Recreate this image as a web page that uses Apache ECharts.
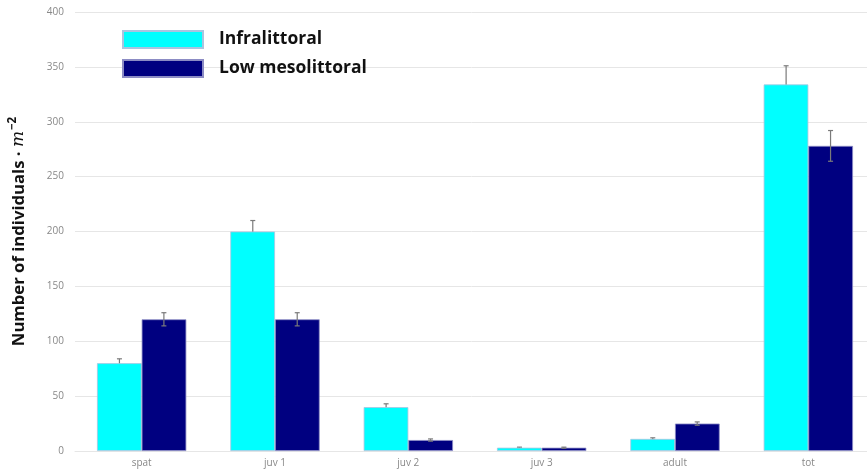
<!DOCTYPE html>
<html>
<head>
<meta charset="utf-8">
<script src="https://cdn.jsdelivr.net/npm/echarts@6/dist/echarts.min.js"></script>
<style>
  html, body { margin: 0; padding: 0; background: #fff; }
  #chart { width: 867px; height: 472px; }
</style>
</head>
<body>
<div id="chart"></div>
<script>
// Size classes along the x axis
const categories = ['spat', 'juv 1', 'juv 2', 'juv 3', 'adult', 'tot'];

// Mean density (individuals per m²) for each zone
const infralittoral = [80, 200, 40, 3, 11, 334];
const lowMesolittoral = [120, 120, 10, 3, 25, 278];

// Standard errors drawn as whiskers
const infralittoralErr = [4, 10, 3, 0.5, 1, 17];
const lowMesolittoralErr = [6, 6, 1, 0.5, 1.5, 14];

const yTicks = { min: 0, max: 400, interval: 50 };

const chart = echarts.init(document.getElementById('chart'));

// Whisker renderer: offset is the bar's centre in fractions of the category band
function whisker(values, errs, offset) {
  return function (params, api) {
    const i = api.value(0);
    const band = api.size([1, 0])[0];
    const x = api.coord([i, 0])[0] + offset * band;
    const hi = api.coord([i, values[i] + errs[i]])[1];
    const lo = api.coord([i, values[i] - errs[i]])[1];
    const cap = 2.5;
    const style = { stroke: '#7a7a7a', lineWidth: 1.2 };
    return {
      type: 'group',
      children: [
        { type: 'line', shape: { x1: x, y1: hi, x2: x, y2: lo }, style },
        { type: 'line', shape: { x1: x - cap, y1: hi, x2: x + cap, y2: hi }, style },
        { type: 'line', shape: { x1: x - cap, y1: lo, x2: x + cap, y2: lo }, style }
      ]
    };
  };
}

chart.setOption({
  animation: false,
  backgroundColor: '#ffffff',
  legend: {
    orient: 'vertical',
    left: 117,
    top: 25,
    itemWidth: 80,
    itemHeight: 17,
    itemGap: 10,
    icon: 'rect',
    data: ['Infralittoral', 'Low mesolittoral'],
    textStyle: {
      fontFamily: 'Open Sans',
      fontWeight: 'bold',
      fontSize: 17.5,
      color: '#111',
      padding: [0, 0, 0, 11]
    }
  },
  grid: {
    left: 75,
    top: 12,
    width: 800,
    bottom: 21,
    outerBoundsMode: 'none',
    containLabel: false
  },
  xAxis: {
    type: 'category',
    data: categories,
    axisLine: { show: true, lineStyle: { color: '#e6e6e6' } },
    axisTick: { show: false },
    axisLabel: {
      color: '#888',
      fontSize: 10,
      fontFamily: 'Open Sans',
      margin: 7
    }
  },
  yAxis: {
    type: 'value',
    min: yTicks.min,
    max: yTicks.max,
    interval: yTicks.interval,
    axisLine: { show: false },
    axisTick: { show: false },
    splitLine: { lineStyle: { color: '#e6e6e6', width: 1 } },
    axisLabel: {
      color: '#888',
      fontSize: 10,
      fontFamily: 'Open Sans',
      margin: 11
    },
    name: '{t|Number of individuals · }{m|m}{s|−2}',
    nameLocation: 'middle',
    nameGap: 44,
    nameRotate: 90,
    nameTextStyle: {
      rich: {
        t: { fontFamily: 'Open Sans', fontWeight: 'bold', fontSize: 16.7, color: '#111', lineHeight: 24 },
        m: { fontFamily: 'DejaVu Serif', fontStyle: 'italic', fontSize: 17, color: '#111', lineHeight: 24 },
        s: { fontFamily: 'Open Sans', fontWeight: 'bold', fontSize: 11.5, color: '#111', lineHeight: 24, verticalAlign: 'top', padding: [0, 0, 8, 1] }
      }
    }
  },
  series: [
    {
      name: 'Infralittoral',
      type: 'bar',
      data: infralittoral,
      barGap: '0%',
      barCategoryGap: '33%',
      z: 2,
      itemStyle: { color: '#00ffff', borderColor: '#a9c4e0', borderWidth: 0.8 }
    },
    {
      name: 'Low mesolittoral',
      type: 'bar',
      data: lowMesolittoral,
      z: 2,
      itemStyle: { color: '#000080', borderColor: '#8c8cc4', borderWidth: 0.8 }
    },
    {
      // cyan whiskers sit behind their bars, so only the upper half shows
      type: 'custom',
      renderItem: whisker(infralittoral, infralittoralErr, -1 / 6),
      data: categories.map((_, i) => [i]),
      encode: { x: 0 },
      z: 1,
      silent: true
    },
    {
      type: 'custom',
      renderItem: whisker(lowMesolittoral, lowMesolittoralErr, 1 / 6),
      data: categories.map((_, i) => [i]),
      encode: { x: 0 },
      z: 5,
      silent: true
    }
  ]
});
</script>
</body>
</html>
